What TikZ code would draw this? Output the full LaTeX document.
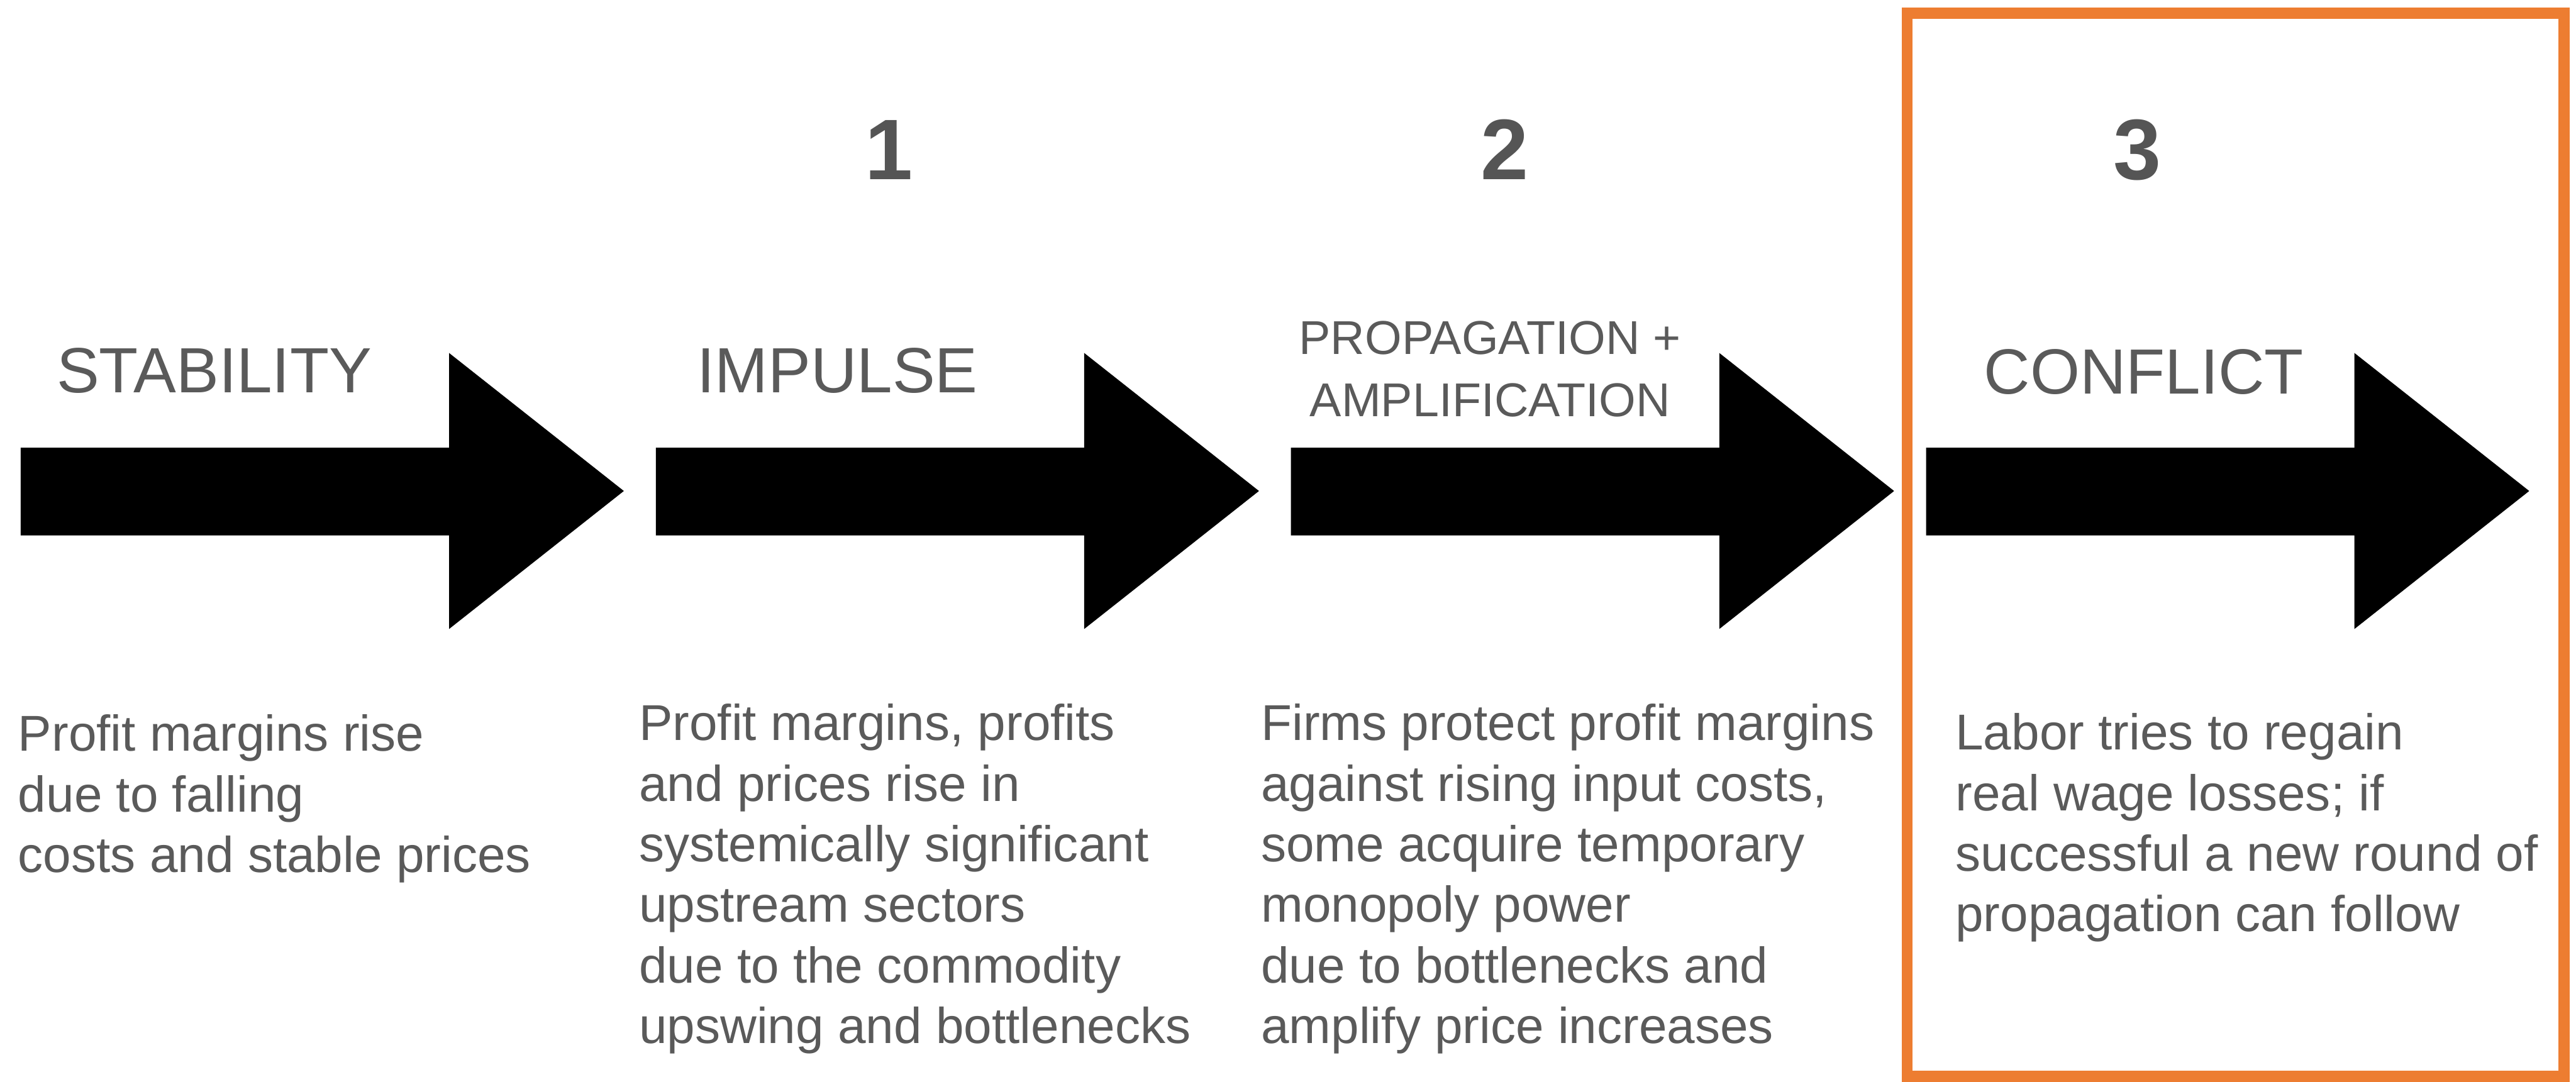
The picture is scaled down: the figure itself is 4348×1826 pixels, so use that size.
\documentclass[tikz,border=0pt]{standalone}
\usepackage{fontspec}
\setmainfont{Liberation Sans}
\usetikzlibrary{positioning}
\definecolor{textgray}{HTML}{5A5A5A}
\definecolor{numgray}{HTML}{555555}
\definecolor{frameorange}{HTML}{ED7D31}

\begin{document}
\begin{tikzpicture}[
  x=0.1mm,y=-0.1mm,
  heading/.style={anchor=base west,inner sep=0pt,text=textgray,
    font=\fontsize{30.7}{36}\selectfont},
  subhead/.style={anchor=north,inner sep=0pt,align=center,text=textgray,
    font=\fontsize{22.8}{29.9}\selectfont},
  stepnum/.style={anchor=base,inner sep=0pt,text=numgray,
    font=\fontsize{41.3}{48}\selectfont\bfseries},
  body/.style={anchor=north west,inner sep=0pt,align=left,text=textgray,
    font=\fontsize{24.2}{29.1}\selectfont}
]
\useasboundingbox (0,0) rectangle (4348,1826);

% block arrows, one per phase
\foreach \x in {35,1107,2179,3251}
  \fill[black] (\x,756) -- ++(723,0) -- ++(0,-160) -- ++(295,233)
    -- ++(-295,233) -- ++(0,-158) -- ++(-723,0) -- cycle;

% step numbers
\node[stepnum] (stepone) at (1501,303) {1};
\node[stepnum] (steptwo) at (2540,303) {2};
\node[stepnum] (stepthree) at (3608,303) {3};

% phase titles
\node[heading] (stability) at (95,663) {STABILITY};
\node[heading] (impulse) at (1176,663) {IMPULSE};
\node[subhead] (propagation) at (2515,541) {PROPAGATION +\\AMPLIFICATION};
\node[heading] (conflict) at (3348,665) {CONFLICT};

% descriptions
\node[body] (stabilitytext) at (30,1206)
  {Profit margins rise\\due to falling\\costs and stable prices};
\node[body] (impulsetext) at (1078,1188)
  {Profit margins, profits\\and prices rise in\\systemically significant\\upstream sectors\\due to the commodity\\upswing and bottlenecks};
\node[body] (propagationtext) at (2128,1188)
  {Firms protect profit margins\\against rising input costs,\\some acquire temporary\\monopoly power\\due to bottlenecks and\\amplify price increases};
\node[body] (conflicttext) at (3300,1204)
  {Labor tries to regain\\real wage losses; if\\successful a new round of\\propagation can follow};

% highlight on the last phase
\draw[frameorange,line width=1.9mm] (3219,22) rectangle (4328,1817);
\end{tikzpicture}
\end{document}
